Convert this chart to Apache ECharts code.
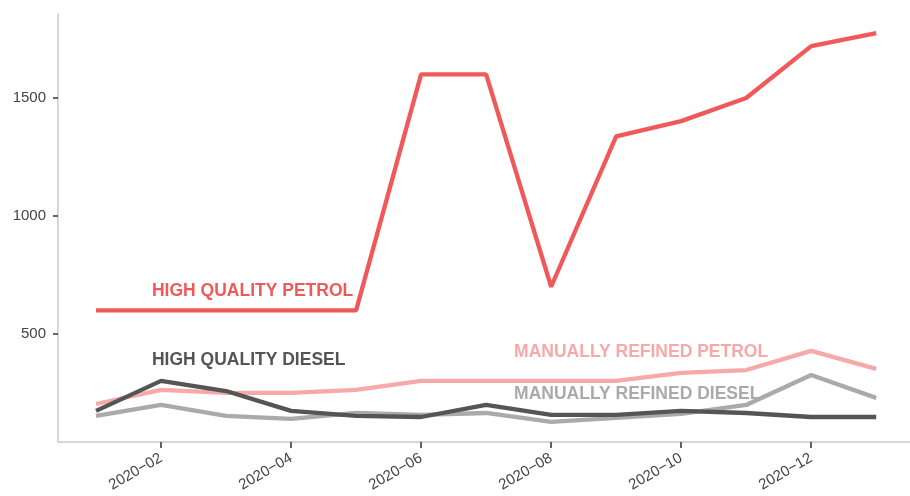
<!DOCTYPE html>
<html>
<head>
<meta charset="utf-8">
<script src="https://cdn.jsdelivr.net/npm/echarts@6/dist/echarts.min.js"></script>
<style>
  html, body { margin: 0; padding: 0; background: #fff; }
  #chart { width: 910px; height: 496px; }
</style>
</head>
<body>
<div id="chart"></div>
<script>
// months 2020-01 .. 2021-01, x = month index
const months = ["2020-01", "2020-02", "2020-03", "2020-04", "2020-05", "2020-06", "2020-07",
  "2020-08", "2020-09", "2020-10", "2020-11", "2020-12", "2021-01"];
const tickMonths = [1, 3, 5, 7, 9, 11];
const tickLabels = ["2020\u221202", "2020\u221204", "2020\u221206", "2020\u221208", "2020\u221210", "2020\u221212"];
const yTicks = [500, 1000, 1500];

const hqPetrol = [600, 600, 600, 600, 600, 1600, 1600, 700, 1337, 1402, 1500, 1720, 1775];
const hqDiesel = [174, 301, 258, 174, 153, 148, 199, 157, 157, 174, 165, 148, 148];
const mrPetrol = [203, 263, 250, 250, 263, 301, 301, 301, 301, 335, 347, 428, 352];
const mrDiesel = [153, 199, 153, 140, 165, 157, 165, 127, 144, 161, 199, 326, 229];

const seriesNames = ["HIGH QUALITY PETROL", "HIGH QUALITY DIESEL", "MANUALLY REFINED PETROL", "MANUALLY REFINED DIESEL"];
const labelX = [0.86, 0.86, 6.43, 6.43];
const labelY = [682, 390, 424, 246];

const colors = ["#F0585A", "#555555", "#F5AAA9", "#AAAAAA"];
const allSeries = [hqPetrol, hqDiesel, mrPetrol, mrDiesel];

const chart = echarts.init(document.getElementById("chart"));

let series = [];
// labels go under the lines
series.push({
  type: "scatter",
  symbolSize: 0,
  z: 1,
  silent: true,
  itemStyle: { opacity: 1 },
  data: seriesNames.map((n, i) => ({
    value: [labelX[i], labelY[i]],
    label: {
      show: true,
      formatter: n,
      position: [0, 0],
      align: "left",
      verticalAlign: "middle",
      color: colors[i],
      opacity: 1,
      fontFamily: "Liberation Sans",
      fontWeight: "bold",
      fontSize: 17.5
    }
  }))
});
// light lines drawn first so dark/red sit on top
const drawOrder = [3, 2, 1, 0];
drawOrder.forEach(i => {
  series.push({
    name: seriesNames[i],
    type: "line",
    z: 2,
    symbol: "none",
    lineStyle: { color: colors[i], width: 4.3 },
    data: allSeries[i].map((v, k) => [k, v])
  });
});

const option = {
  animation: false,
  grid: { left: 58, right: 0, top: 14, bottom: 54 },
  xAxis: {
    type: "value",
    min: -0.585,
    max: 12.52,
    splitLine: { show: false },
    axisLine: { show: true, onZero: false, lineStyle: { color: "#d6d6d6", width: 2 } },
    axisTick: {
      show: true, customValues: tickMonths, length: 6,
      lineStyle: { color: "#333", width: 1.5 }
    },
    axisLabel: {
      customValues: tickMonths,
      rotate: 30,
      color: "#444",
      fontSize: 15,
      fontFamily: "Liberation Sans",
      margin: 15,
      formatter: v => tickLabels[tickMonths.indexOf(Math.round(v))] || ""
    }
  },
  yAxis: {
    type: "value",
    min: 42,
    max: 1856,
    splitLine: { show: false },
    axisLine: { show: true, onZero: false, lineStyle: { color: "#d6d6d6", width: 2 } },
    axisTick: {
      show: true, customValues: yTicks, length: 5,
      lineStyle: { color: "#333", width: 1.5 }
    },
    axisLabel: {
      customValues: yTicks,
      color: "#444",
      fontSize: 15,
      fontFamily: "Liberation Sans",
      margin: 12,
      formatter: v => String(v)
    }
  },
  series: series
};
chart.setOption(option);
</script>
</body>
</html>
